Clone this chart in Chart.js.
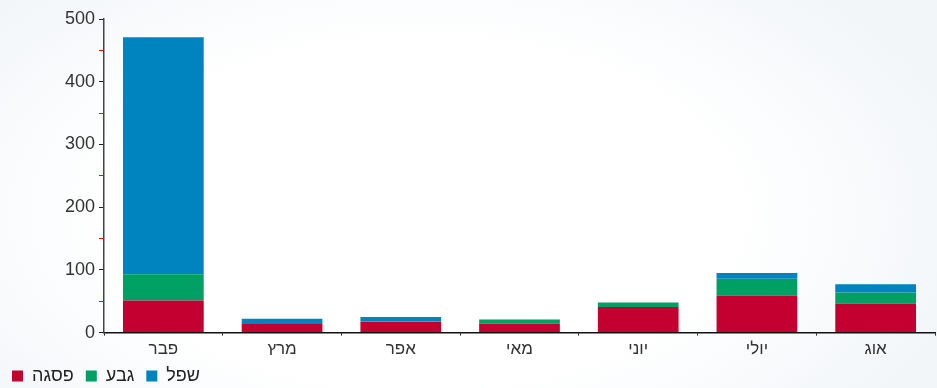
<!DOCTYPE html>
<html>
<head>
<meta charset="utf-8">
<script src="https://cdn.jsdelivr.net/npm/chart.js"></script>
<style>
  html, body { margin: 0; padding: 0; }
  body {
    width: 937px; height: 388px; overflow: hidden;
    background: radial-gradient(ellipse 60% 80% at 45% 55%, #ffffff 55%, #f2f6f9 100%);
  }
  #wrap { position: relative; width: 937px; height: 388px; }
</style>
</head>
<body>
<div id="wrap"><canvas id="chart"></canvas></div>
<script>
// חודשים
const months = ['פבר', 'מרץ', 'אפר', 'מאי', 'יוני', 'יולי', 'אוג'];

// ערכי הסדרות
const peakValues = [51, 15, 17, 14, 41, 59, 46];   // פסגה
const midValues = [42, 0, 1, 6, 7, 27, 18];        // גבע
const offValues = [378, 7, 7, 1, 0, 9, 13];        // שפל

const seriesNames = ['פסגה', 'גבע', 'שפל'];
const seriesColors = ['#c40031', '#00a064', '#0084c0'];

const ctx = document.getElementById('chart').getContext('2d');

new Chart(ctx, {
    type: 'bar',
    data: {
        labels: months,
        datasets: [
            { label: seriesNames[0], data: peakValues, backgroundColor: seriesColors[0] },
            { label: seriesNames[1], data: midValues, backgroundColor: seriesColors[1] },
            { label: seriesNames[2], data: offValues, backgroundColor: seriesColors[2] }
        ]
    },
    options: {
        responsive: true,
        maintainAspectRatio: false,
        animation: false,
        layout: { padding: { left: 0, right: 2, top: 19, bottom: -7 } },
        datasets: {
            bar: { categoryPercentage: 0.68, barPercentage: 1.0, borderWidth: 0 }
        },
        scales: {
            x: {
                stacked: true,
                afterFit: s => { s.height -= 9; },
                grid: {
                    display: true,
                    drawOnChartArea: false,
                    tickLength: 3,
                    tickColor: '#222'
                },
                border: { color: '#111', width: 1.5 },
                ticks: {
                    color: '#333',
                    padding: 4,
                    font: { family: 'Liberation Sans, Arial', size: 17 }
                }
            },
            y: {
                stacked: true,
                min: 0,
                max: 500,
                afterFit: s => { s.width = 104; },
                grid: {
                    display: true,
                    drawOnChartArea: false,
                    tickLength: 5,
                    tickColor: c => (c.tick && c.tick.value % 100 === 0) ? '#222' : '#ff0000'
                },
                border: { color: '#444', width: 1.5 },
                ticks: {
                    stepSize: 50,
                    color: '#333',
                    padding: 4,
                    font: { family: 'Liberation Sans, Arial', size: 18 },
                    callback: v => (v % 100 === 0 ? v : '')
                }
            }
        },
        plugins: {
            legend: {
                display: true,
                position: 'bottom',
                align: 'start',
                labels: {
                    boxWidth: 11,
                    boxHeight: 11,
                    padding: 12,
                    color: '#222',
                    font: { family: 'Liberation Sans, Arial', size: 18 }
                }
            },
            tooltip: { enabled: false }
        }
    }
});
</script>
</body>
</html>
